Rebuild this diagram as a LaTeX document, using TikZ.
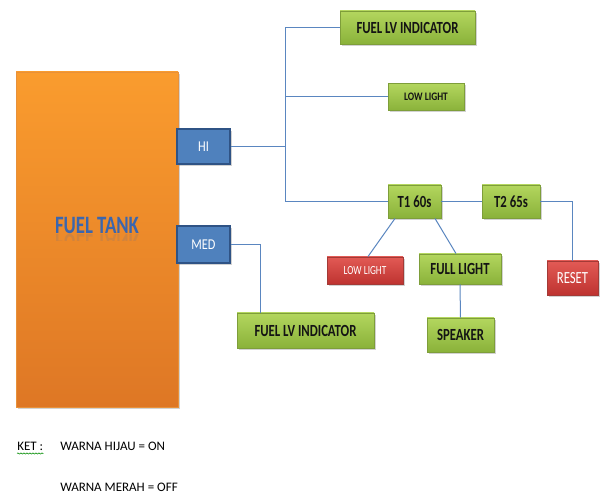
\documentclass[tikz,border=0pt]{standalone}
\usepackage{fontspec}
\setmainfont{Carlito}
\newfontfamily\condfont[FakeStretch=0.75]{Carlito}
\newfontfamily\semifont[FakeStretch=0.82]{Carlito}
\usetikzlibrary{shadows,calc,decorations.pathmorphing,fadings}
\newdimen\pxu \pxu=0.75pt
\definecolor{gtop}{HTML}{B3D65E}
\definecolor{gbot}{HTML}{8AB23A}
\definecolor{gedge}{HTML}{7E9E3A}
\definecolor{rtop}{HTML}{E25A55}
\definecolor{rbot}{HTML}{BE3330}
\definecolor{redge}{HTML}{A33A36}
\definecolor{bfill}{HTML}{4F81BD}
\definecolor{bedge}{HTML}{2F5385}
\definecolor{otop}{HTML}{FA9C2E}
\definecolor{obot}{HTML}{DE7725}
\definecolor{oedge}{HTML}{E8913A}
\definecolor{conn}{HTML}{5A86C0}
\definecolor{tanktext}{HTML}{3B66AE}
\tikzset{
  box/.style={rectangle, inner sep=0pt, line width=0.9\pxu,
    drop shadow={opacity=0.35, shadow xshift=1.5\pxu, shadow yshift=-2\pxu}},
  gbox/.style={box, top color=gtop, bottom color=gbot, draw=gedge, text=black!92,
    font=\condfont\bfseries\fontsize{12.75}{14}\selectfont},
  gsmall/.style={gbox, font=\semifont\bfseries\fontsize{8.6}{10}\selectfont},
  rbox/.style={box, top color=rtop, bottom color=rbot, draw=redge, text=white},
  bbox/.style={box, fill=bfill, draw=bedge, line width=1.6\pxu, text=white,
    font=\semifont\fontsize{11.25}{13}\selectfont},
  link/.style={draw=conn, line width=1\pxu},
  keytext/.style={anchor=west, inner sep=0pt, font=\fontsize{9.75}{11}\selectfont, text=black}
}
\begin{document}
\begin{tikzpicture}[x=0.75pt, y=-0.75pt]
\useasboundingbox (0,0) rectangle (600,495);
\fill[white] (0,0) rectangle (600,495);

% tank
\node[box, top color=otop, bottom color=obot, draw=oedge, minimum width=162\pxu, minimum height=335\pxu] (tank) at (97,239.5) {};
\node[inner sep=0pt, text=tanktext, font=\condfont\bfseries\fontsize{18.75}{20}\selectfont] (tanklabel) at (97,225) {FUEL TANK};
\begin{scope}
  \clip ($(tanklabel.base west)+(-2,0)$) rectangle ($(tanklabel.base east)+(2,7)$);
  \node[inner sep=0pt, yscale=-1, text=tanktext, text opacity=0.15, font=\condfont\bfseries\fontsize{18.75}{20}\selectfont, anchor=south] (tankrefl) at ($(tanklabel.base)+(0,1)$) {FUEL TANK};
\end{scope}

% sensors
\node[bbox, minimum width=53\pxu, minimum height=35\pxu] (hi) at (203.5,146.5) {HI};
\node[bbox, minimum width=53\pxu, minimum height=37\pxu] (med) at (203.5,244.5) {MED};

% outputs
\node[gbox, minimum width=135\pxu, minimum height=33\pxu] (flv1) at (407.5,27.5) {FUEL LV INDICATOR};
\node[gsmall, minimum width=76\pxu, minimum height=27\pxu] (ll1) at (426,97) {LOW LIGHT};
\node[gbox, minimum width=53\pxu, minimum height=33\pxu] (t1) at (414.5,201.5) {T1 60s};
\node[gbox, minimum width=58\pxu, minimum height=33\pxu] (t2) at (511,201.5) {T2 65s};
\node[rbox, minimum width=76\pxu, minimum height=27\pxu, font=\condfont\fontsize{9.3}{11}\selectfont] (ll2) at (365,270.5) {LOW LIGHT};
\node[gbox, minimum width=82\pxu, minimum height=30\pxu] (full) at (460,269) {FULL LIGHT};
\node[rbox, minimum width=51\pxu, minimum height=34\pxu, font=\condfont\fontsize{12.75}{14}\selectfont] (reset) at (572.5,278) {RESET};
\node[gbox, minimum width=67\pxu, minimum height=34\pxu] (spk) at (460.5,335) {SPEAKER};
\node[gbox, minimum width=137\pxu, minimum height=35\pxu] (flv2) at (305.5,330.5) {FUEL LV INDICATOR};

% connectors
\coordinate (bus) at (285,201.5);
\draw[link] (hi.east) -- (hi.east -| bus);
\draw[link] (flv1.west) -| (bus) -- (t1.west);
\draw[link] (ll1.west) -- (ll1.west -| bus);
\draw[link] (t1.east) -- (t2.west);
\draw[link] (t2.east) -| (reset.north);
\draw[link] ($(t1.south)+(-19.5,0)$) -- ($(ll2.north)+(3,0)$);
\draw[link] ($(t1.south)+(20.5,0)$) -- ($(full.north)+(-4,0)$);
\draw[link] (full.south) -- (spk.north);
\draw[link] (med.east) -| ($(flv2.north west)+(24,0)$);

% legend
\node[keytext] (ket) at (17,446) {KET :};
\draw[draw=green!55!black, line width=0.6\pxu, decorate, decoration={snake, amplitude=0.6\pxu, segment length=3\pxu}] ($(ket.south west)+(0,3)$) -- ($(ket.south east)+(0,3)$);
\node[keytext] (on) at (60,446) {WARNA HIJAU = ON};
\node[keytext] (off) at (60,487) {WARNA MERAH = OFF};
\end{tikzpicture}
\end{document}
